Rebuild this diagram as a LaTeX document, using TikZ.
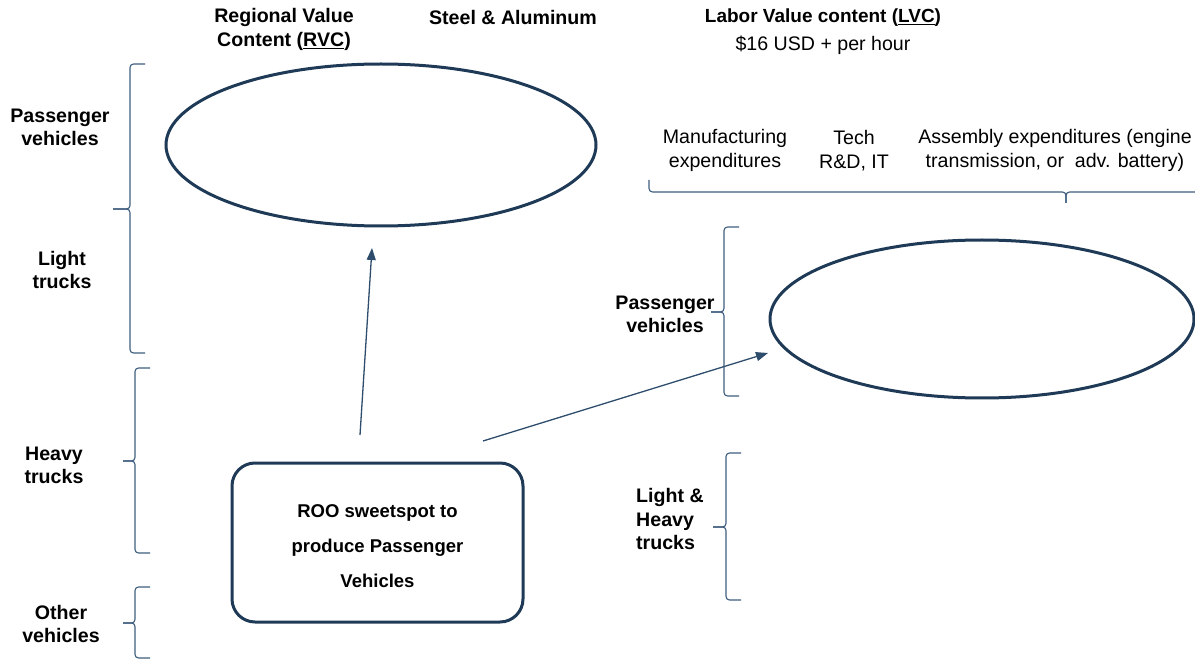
\documentclass[tikz,border=0pt]{standalone}
\usepackage{fontspec}
\setmainfont{Liberation Sans}
\usetikzlibrary{shapes.geometric,arrows.meta}
\definecolor{navy}{HTML}{1F3A56}
\definecolor{bracecol}{HTML}{3D5D7E}
\definecolor{arrowcol}{HTML}{2E4D6D}
% vertical brace: spine x, top y, tip y, bottom y, tip length
\newcommand\vbracket[5]{%
  \draw[bracestyle] (#1+15,#2) -- (#1,#2) -- (#1,#3) -- (#1-#5,#3);
  \draw[bracestyle] (#1-#5,#3) -- (#1,#3) -- (#1,#4) -- (#1+15,#4);}
\tikzset{
  bracestyle/.style={draw=bracecol, line width=1.1pt, rounded corners=3.5pt},
  lbl/.style={font=\bfseries\fontsize{19.6}{23.5}\selectfont, align=center, inner sep=0pt},
  plain/.style={font=\fontsize{19.6}{23.5}\selectfont, align=center, inner sep=0pt},
  oval/.style={ellipse, draw=navy, line width=3pt, inner sep=0pt},
  link/.style={draw=arrowcol, line width=1.3pt, -{Triangle[length=12pt,width=9pt]}},
}
\begin{document}
\begin{tikzpicture}[x=1pt,y=-1pt]
\useasboundingbox (0,0) rectangle (1195,660);

% headings
\node[lbl] (rvchead) at (284,29.5) {Regional Value\\Content (\underline{RVC})};
\node[lbl] (steel) at (513,17) {Steel \& Aluminum};
\node[lbl, font=\bfseries\fontsize{19}{23.5}\selectfont] (lvchead) at (823,18) {Labor Value content (\underline{LVC})};
\node[plain] (wage) at (823,45) {\$16 USD + per hour};
\node[plain] (manuf) at (725,150.5) {Manufacturing\\expenditures};
\node[plain] (tech) at (854,150.5) {Tech\\R\&D, IT};
\node[plain] (assembly) at (1055,150.5) {Assembly expenditures (engine\\transmission, or\ \ adv. battery)};

% left vehicle classes
\node[lbl] (pvleft) at (60,127.5) {Passenger\\vehicles};
\node[lbl] (ltleft) at (62,270) {Light\\trucks};
\node[lbl] (htleft) at (54,465.5) {Heavy\\trucks};
\node[lbl] (ovleft) at (61,624) {Other\\vehicles};

% right vehicle classes
\node[lbl] (pvright) at (665,314.5) {Passenger\\vehicles};
\node[lbl, align=left, anchor=west] (lhright) at (636,519) {Light \&\\Heavy\\trucks};

% braces
\vbracket{130}{64}{209}{353}{17}
\vbracket{135}{368}{461}{553}{12}
\vbracket{135}{587}{623}{658}{12}
\vbracket{724}{227}{312}{396}{13}
\vbracket{726}{453}{527}{600}{13}
\draw[bracestyle] (649,180) -- (649,192) -- (1066,192) -- (1066,203);
\draw[bracestyle] (1066,203) -- (1066,192) -- (1200,192);

% ovals
\node[oval, minimum width=430pt, minimum height=162pt] (rvc) at (381,145) {};
\node[oval, minimum width=424pt, minimum height=158pt] (lvc) at (982,319) {};

% sweet spot box and its text
\node[draw=navy, line width=3pt, rounded corners=23pt, minimum width=291pt, minimum height=159pt]
      (roo) at (377.5,542.5) {};
\node[font=\bfseries\fontsize{18.5}{35}\selectfont, align=center, inner sep=0pt]
      (rootext) at (377.5,546) {ROO sweetspot to\\produce Passenger\\Vehicles};

% arrows
\coordinate (a1s) at (360,435);
\coordinate (a1e) at (372,248);
\coordinate (a2s) at (483,441);
\coordinate (a2e) at (768,353);
\draw[link] (a1s) -- (a1e);
\draw[link] (a2s) -- (a2e);
\end{tikzpicture}
\end{document}
